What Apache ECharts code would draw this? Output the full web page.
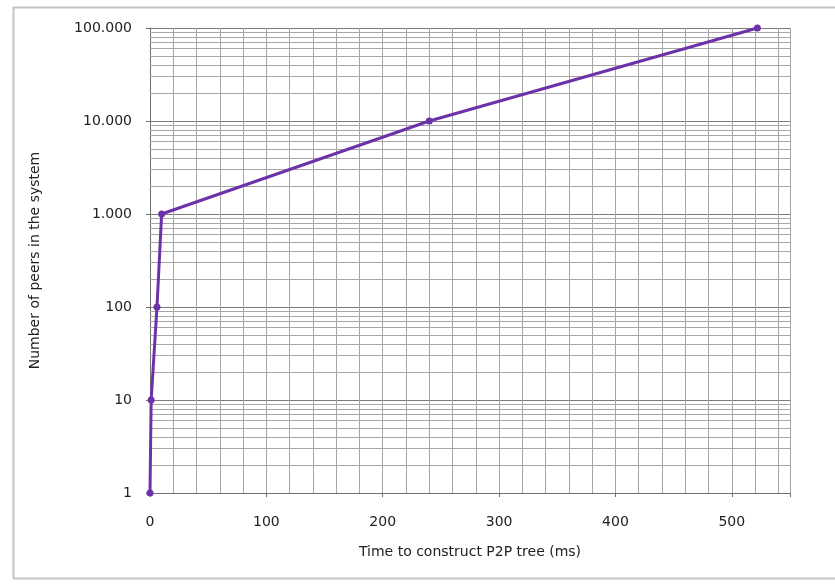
<!DOCTYPE html>
<html>
<head>
<meta charset="utf-8">
<script src="https://cdn.jsdelivr.net/npm/echarts@6/dist/echarts.min.js"></script>
<style>
html,body{margin:0;padding:0;background:#fff;}
#chart{width:835px;height:585px;}
</style>
</head>
<body>
<div id="chart"></div>
<script>
// Data
var timeMs = [0, 1, 6, 10, 240, 522];
var peers = [1, 10, 100, 1000, 10000, 100000];
var yTickLabels = ['1', '10', '100', '1.000', '10.000', '100.000'];
var yMinorValues = [];
[1, 10, 100, 1000, 10000].forEach(function (d) {
  for (var k = 2; k <= 9; k++) yMinorValues.push(d * k);
});
var xAxisName = 'Time to construct P2P tree (ms)';
var yAxisName = 'Number of peers in the system';

var chart = echarts.init(document.getElementById('chart'));
var font = '"DejaVu Sans", "Open Sans", sans-serif';
var option = {
  animation: false,
  backgroundColor: '#fff',
  graphic: [{
    type: 'rect', left: 11, top: 5, z: -10, silent: true,
    shape: { width: 840, height: 571 },
    style: { fill: 'none', stroke: '#c4c4c4', lineWidth: 2 }
  }],
  grid: { left: 150, right: 45, top: 28, bottom: 92, containLabel: false },
  xAxis: [{
    type: 'value', min: 0, max: 550, interval: 100,
    name: xAxisName, nameLocation: 'middle', nameGap: 52,
    nameTextStyle: { fontFamily: font, fontSize: 14, color: '#222' },
    axisLine: { show: true, lineStyle: { color: '#707070', width: 1 } },
    axisTick: { show: true, length: 4, inside: false, lineStyle: { color: '#707070' } },
    axisLabel: { fontFamily: font, fontSize: 14, color: '#222', margin: 22,
      formatter: function (v) { return v % 100 === 0 ? String(v) : ''; } },
    splitLine: { show: true, lineStyle: { color: '#7a7a7a', width: 1 } }
  }, {
    type: 'value', min: 0, max: 550, interval: 20, position: 'bottom',
    axisLine: { show: false }, axisTick: { show: false }, axisLabel: { show: false },
    splitLine: { show: true, lineStyle: { color: '#a6a6a6', width: 1 } }
  }],
  yAxis: {
    type: 'log', logBase: 10, min: 1, max: 100000,
    name: yAxisName, nameLocation: 'middle', nameGap: 108, nameRotate: 90,
    nameTextStyle: { fontFamily: font, fontSize: 14, color: '#222' },
    axisLine: { show: true, lineStyle: { color: '#707070', width: 1 } },
    axisTick: { show: true, length: 4, lineStyle: { color: '#707070' } },
    axisLabel: { fontFamily: font, fontSize: 14, color: '#222', margin: 18,
      formatter: function (v) {
        var i = peers.indexOf(Math.round(v));
        return i >= 0 ? yTickLabels[i] : '';
      } },
    splitLine: { show: true, lineStyle: { color: '#7a7a7a', width: 1 } }
  },
  series: [{
    type: 'line', data: [], xAxisIndex: 0, z: 1,
    markLine: {
      silent: true, symbol: 'none', z: 1, animation: false,
      label: { show: false },
      lineStyle: { color: '#a6a6a6', width: 1, type: 'solid' },
      data: yMinorValues.map(function (v) { return { yAxis: v }; })
    }
  }, {
    type: 'line', xAxisIndex: 0, z: 5,
    data: timeMs.map(function (t, i) { return [t, peers[i]]; }),
    lineStyle: { color: '#6E32A8', width: 3 },
    itemStyle: { color: '#6E32A8' },
    symbol: 'circle', symbolSize: 7, showSymbol: true
  }]
};
chart.setOption(option);
</script>
</body>
</html>
